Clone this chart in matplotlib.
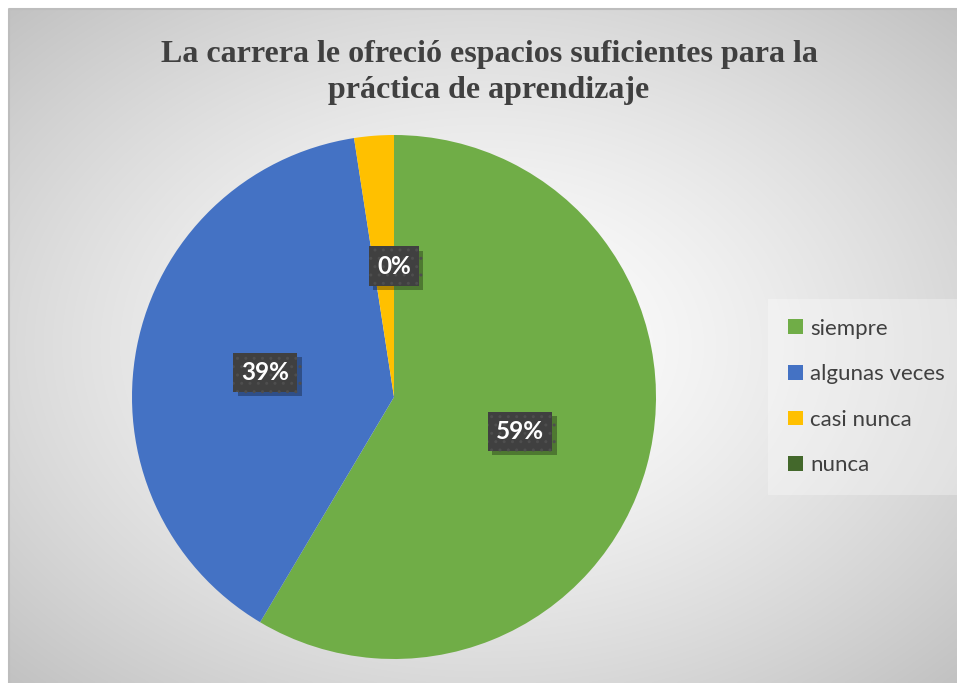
import numpy as np
import matplotlib
matplotlib.use("Agg")
import matplotlib.pyplot as plt
from matplotlib import patheffects as pe

# ---- data ----
categories = ["siempre", "algunas veces", "casi nunca", "nunca"]
counts = [24, 16, 1, 0]
colors = ["#70AD47", "#4472C4", "#FFC000", "#43682B"]
title_lines = ["La carrera le ofreció espacios suficientes para la",
               "práctica de aprendizaje"]
hidden_labels = ["casi nunca"]

W, H = 957, 683
fig = plt.figure(figsize=(W / 100, H / 100), dpi=100)
fig.patch.set_facecolor("white")

# background chart area with radial gradient
x0 = 9 / W
bg = fig.add_axes([x0, 0.0, 1 - x0, 1 - 9 / H])
bg.set_axis_off()
gx, gy = np.meshgrid(np.linspace(-1, 1, 400), np.linspace(-1, 1, 300))
d = np.sqrt((gx ** 2 + gy ** 2) / 2)
g = 1 - 0.24 * d ** 1.4
bg.imshow(np.dstack([g, g, g]), aspect="auto", extent=[0, 1, 0, 1], interpolation="bilinear")
bg.set_xlim(0, 1)
bg.set_ylim(0, 1)
bg.plot([0, 0, 1], [0, 1, 1], color="#bdbdbd", lw=1.5, transform=bg.transAxes, clip_on=False)

# title
for i, line in enumerate(title_lines):
    fig.text(489 / W, 1 - (62 + 36 * i) / H, line, ha="center", va="baseline",
             fontsize=23, fontweight="bold", family="Liberation Serif", color="#404040")

# pie
cx, cy, R = 394, 397, 262
ax = fig.add_axes([(cx - R) / W, 1 - (cy + R) / H, 2 * R / W, 2 * R / H])
wedges, texts, autotexts = ax.pie(
    counts, colors=colors, startangle=90, counterclock=False, radius=1,
    autopct=lambda p: f"{p:.0f}%", pctdistance=0.5,
    textprops=dict(color="white", fontsize=17.5, fontweight="bold", family="Lato"),
    wedgeprops=dict(linewidth=0))
ax.set_xlim(-1, 1)
ax.set_ylim(-1, 1)
ax.set_aspect("equal")

for cat, t in zip(categories, autotexts):
    if cat in hidden_labels:
        t.set_visible(False)
        continue
    t.set_bbox(dict(boxstyle="square,pad=0.33", facecolor="#404040",
                    edgecolor="#4e4e4e", hatch="..", linewidth=0))
    t.get_bbox_patch().set_path_effects([
        pe.SimplePatchShadow(offset=(3, -3), shadow_rgbFace="black", alpha=0.3),
        pe.Normal()])

# legend
leg = fig.legend(wedges, categories, loc="center left",
                 bbox_to_anchor=(757 / W, 1 - 397 / H),
                 frameon=True, fancybox=False,
                 prop=dict(family="Lato", size=16),
                 handlelength=0.65, handleheight=0.65, handletextpad=0.35,
                 labelspacing=1.15, borderpad=0.9)
leg.get_frame().set_facecolor("white")
leg.get_frame().set_alpha(0.3)
leg.get_frame().set_linewidth(0)
for txt in leg.get_texts():
    txt.set_color("#404040")

fig.savefig("out.png", dpi=100)
